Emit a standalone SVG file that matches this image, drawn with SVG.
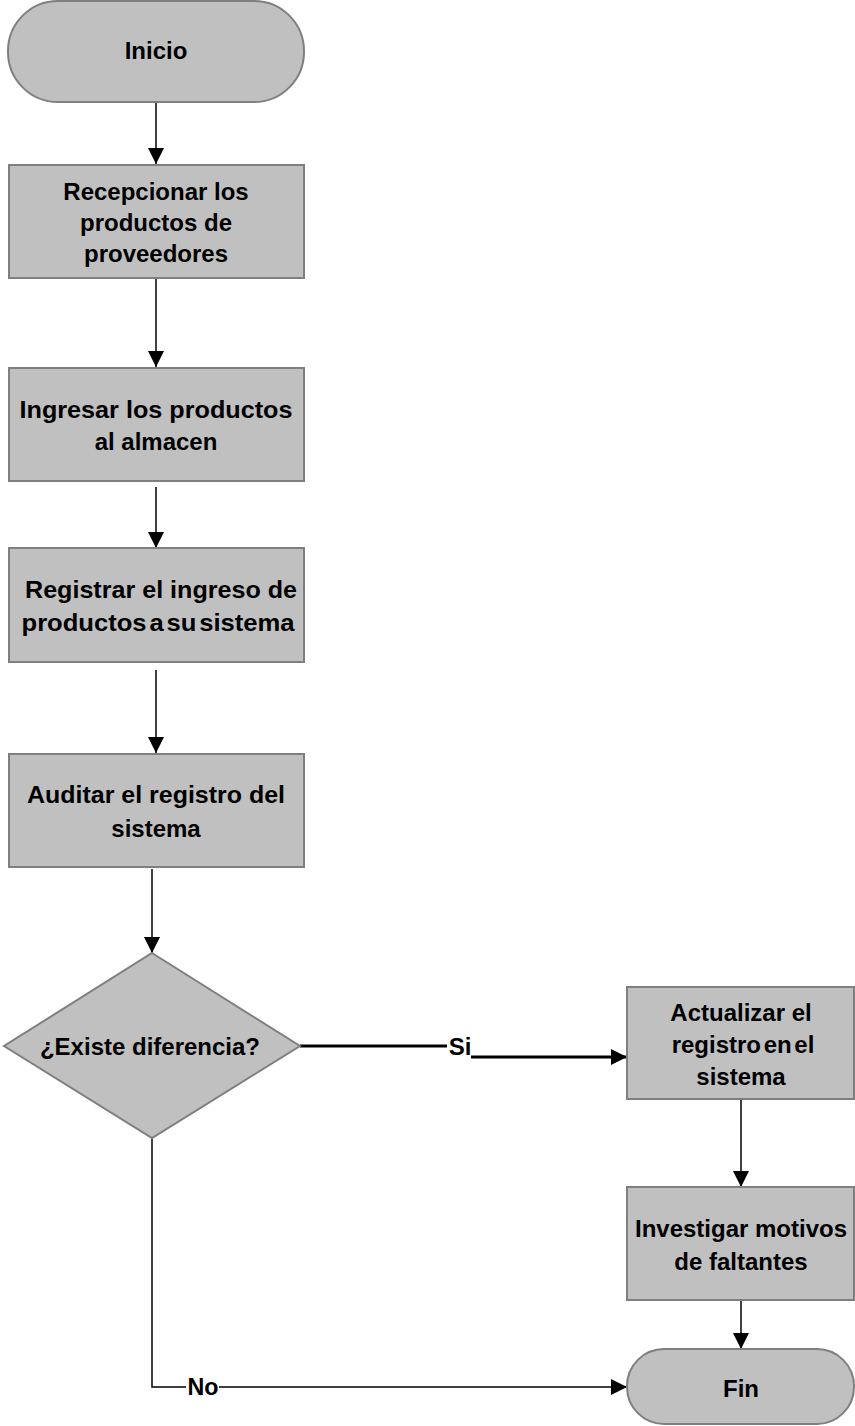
<svg xmlns="http://www.w3.org/2000/svg" width="855" height="1426" viewBox="0 0 855 1426">
  <style>
    .shape { fill: #c0c0c0; stroke: #7f7f7f; stroke-width: 2; }
    .lbl { font-family: "Liberation Sans", Arial, sans-serif; font-weight: bold; font-size: 24px; fill: #000; text-anchor: middle; }
    .edge { fill: none; stroke: #000; stroke-width: 1.5; }
    .thick { fill: none; stroke: #000; stroke-width: 3; }
  </style>
  <defs>
    <marker id="arrowL" viewBox="0 0 10 10" refX="10" refY="5" markerWidth="16" markerHeight="16" markerUnits="userSpaceOnUse" orient="auto">
      <path d="M0,0 L10,5 L0,10 Z" fill="#000"/>
    </marker>
  </defs>

  <rect width="855" height="1426" fill="#fff"/>

  <g id="connectors">
    <path class="edge" d="M156,102 V164" marker-end="url(#arrowL)"/>
    <path class="edge" d="M156,279 V367" marker-end="url(#arrowL)"/>
    <path class="edge" d="M156,487 V548" marker-end="url(#arrowL)"/>
    <path class="edge" d="M156,670 V753" marker-end="url(#arrowL)"/>
    <path class="edge" d="M152,869 V953" marker-end="url(#arrowL)"/>
    <path class="thick" d="M300,1046 H447"/>
    <path class="thick" d="M471,1057 H627" marker-end="url(#arrowL)"/>
    <path class="edge" d="M741,1100 V1187" marker-end="url(#arrowL)"/>
    <path class="edge" d="M741,1301 V1349" marker-end="url(#arrowL)"/>
    <path class="edge" d="M152,1138 V1387 H186"/>
    <path class="edge" d="M219,1387 H627" marker-end="url(#arrowL)"/>
    <text class="lbl" x="460" y="1055" font-size="22">Si</text>
    <text class="lbl" x="203" y="1395" font-size="22" textLength="31" lengthAdjust="spacingAndGlyphs">No</text>
  </g>

  <g id="inicio">
    <rect class="shape" x="8" y="1" width="296" height="101" rx="50" ry="50"/>
    <text class="lbl" x="156" y="59">Inicio</text>
  </g>

  <g id="recepcionar">
    <rect class="shape" x="9" y="165" width="295" height="113"/>
    <text class="lbl" x="156" y="200">Recepcionar los</text>
    <text class="lbl" x="156" y="231">productos de</text>
    <text class="lbl" x="156" y="262">proveedores</text>
  </g>

  <g id="ingresar">
    <rect class="shape" x="9" y="368" width="295" height="113"/>
    <text class="lbl" x="156" y="418" textLength="273" lengthAdjust="spacingAndGlyphs">Ingresar los productos</text>
    <text class="lbl" x="156" y="450">al almacen</text>
  </g>

  <g id="registrar">
    <rect class="shape" x="9" y="548" width="295" height="114"/>
    <text class="lbl" x="161" y="598" textLength="272" lengthAdjust="spacingAndGlyphs">Registrar el ingreso de</text>
    <text class="lbl" x="158" y="631" textLength="273" lengthAdjust="spacingAndGlyphs" word-spacing="-4">productos a su sistema</text>
  </g>

  <g id="auditar">
    <rect class="shape" x="9" y="754" width="295" height="113"/>
    <text class="lbl" x="156" y="803" textLength="258" lengthAdjust="spacingAndGlyphs">Auditar el registro del</text>
    <text class="lbl" x="156" y="837">sistema</text>
  </g>

  <g id="decision">
    <polygon class="shape" points="152,953 300,1046 152,1138 4,1046"/>
    <text class="lbl" x="150" y="1055">¿Existe diferencia?</text>
  </g>

  <g id="actualizar">
    <rect class="shape" x="627" y="987" width="227" height="112"/>
    <text class="lbl" x="741" y="1021">Actualizar el</text>
    <text class="lbl" x="743" y="1053" word-spacing="-4">registro en el</text>
    <text class="lbl" x="741" y="1085">sistema</text>
  </g>

  <g id="investigar">
    <rect class="shape" x="627" y="1187" width="227" height="113"/>
    <text class="lbl" x="741" y="1237">Investigar motivos</text>
    <text class="lbl" x="741" y="1270">de faltantes</text>
  </g>

  <g id="fin">
    <rect class="shape" x="627" y="1349" width="227" height="75" rx="37" ry="37"/>
    <text class="lbl" x="741" y="1397">Fin</text>
  </g>
</svg>
